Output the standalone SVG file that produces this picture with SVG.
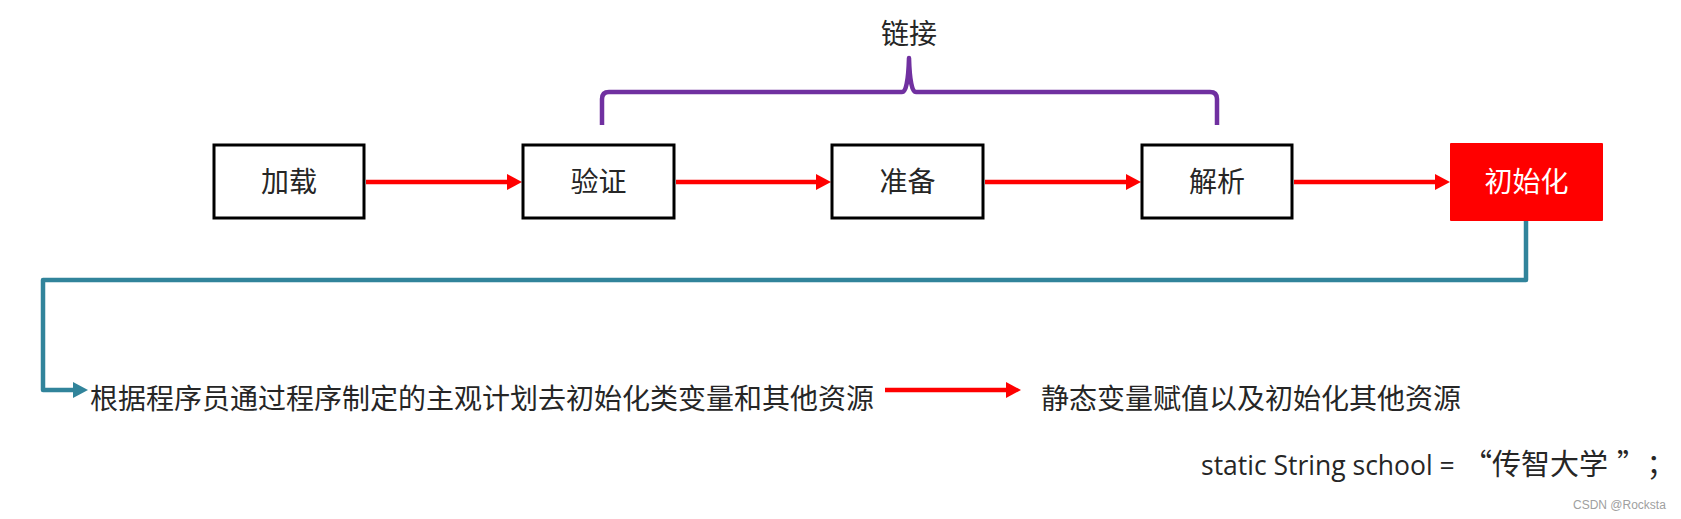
<svg xmlns="http://www.w3.org/2000/svg" width="1681" height="519" viewBox="0 0 1681 519">
  <style>
    .cjk { font-family: "Noto Sans CJK SC", "Microsoft YaHei", sans-serif; font-size: 28px; fill: #262626; }
    .box { fill: #ffffff; stroke: #000000; stroke-width: 3; }
    .red { stroke: #ff0000; stroke-width: 4.5; fill: none; }
    .teal { stroke: #31849b; stroke-width: 4.5; fill: none; stroke-linejoin: round; }
    .brace { stroke: #7030a0; stroke-width: 4.5; fill: none; stroke-linejoin: round; }
  </style>
  <defs>
    <marker id="arrRed" markerUnits="userSpaceOnUse" markerWidth="16" markerHeight="17" refX="0" refY="8" orient="auto" overflow="visible">
      <path d="M0,0 L15,8 L0,16 z" fill="#ff0000"/>
    </marker>
    <marker id="arrTeal" markerUnits="userSpaceOnUse" markerWidth="16" markerHeight="17" refX="0" refY="8" orient="auto" overflow="visible">
      <path d="M0,0 L15,8 L0,16 z" fill="#31849b"/>
    </marker>
  </defs>
  <rect x="0" y="0" width="1681" height="519" fill="#ffffff"/>

  <g id="connectors">
    <line class="red" x1="366" y1="182" x2="507" y2="182" marker-end="url(#arrRed)"/>
    <line class="red" x1="676" y1="182" x2="816" y2="182" marker-end="url(#arrRed)"/>
    <line class="red" x1="985" y1="182" x2="1126" y2="182" marker-end="url(#arrRed)"/>
    <line class="red" x1="1294" y1="182" x2="1435" y2="182" marker-end="url(#arrRed)"/>
    <path class="teal" d="M1526,221 L1526,280 L43,280 L43,390 L73,390" marker-end="url(#arrTeal)"/>
    <line class="red" x1="885" y1="390" x2="1006" y2="390" marker-end="url(#arrRed)"/>
  </g>

  <g id="brace">
    <path class="brace" d="M602,125 L602,99 Q602,92 609,92 L902,92 Q908,92 909,58 Q910,92 916,92 L1210,92 Q1217,92 1217,99 L1217,125"/>
    <text class="cjk" x="909" y="44" text-anchor="middle">链接</text>
  </g>

  <g id="node-load">
    <rect class="box" x="214" y="145" width="150" height="73"/>
    <text class="cjk" x="289" y="192" text-anchor="middle">加载</text>
  </g>
  <g id="node-verify">
    <rect class="box" x="523" y="145" width="151" height="73"/>
    <text class="cjk" x="598.5" y="192" text-anchor="middle">验证</text>
  </g>
  <g id="node-prepare">
    <rect class="box" x="832" y="145" width="151" height="73"/>
    <text class="cjk" x="907.5" y="192" text-anchor="middle">准备</text>
  </g>
  <g id="node-resolve">
    <rect class="box" x="1142" y="145" width="150" height="73"/>
    <text class="cjk" x="1217" y="192" text-anchor="middle">解析</text>
  </g>
  <g id="node-init">
    <rect x="1450" y="143" width="153" height="78" rx="1" fill="#ff0000"/>
    <text class="cjk" x="1526.5" y="192" text-anchor="middle" style="fill:#ffffff">初始化</text>
  </g>

  <g id="node-desc">
    <text class="cjk" x="90" y="409">根据程序员通过程序制定的主观计划去初始化类变量和其他资源</text>
  </g>
  <g id="node-result">
    <text class="cjk" x="1041" y="409">静态变量赋值以及初始化其他资源</text>
  </g>
  <g id="node-code">
    <text x="1201" y="475" style="font-family:'Open Sans','Noto Sans',sans-serif;font-size:26.5px;fill:#262626">static String school =</text>
    <text class="cjk" x="1463" y="475" style="font-size:29px">“传智大学<tspan dx="9">”</tspan><tspan dx="15">；</tspan></text>
  </g>
  <text x="1573" y="509" style="font-family:'Liberation Sans',Arial,sans-serif;font-size:12px;fill:#a0a0a0">CSDN @Rocksta</text>
</svg>
